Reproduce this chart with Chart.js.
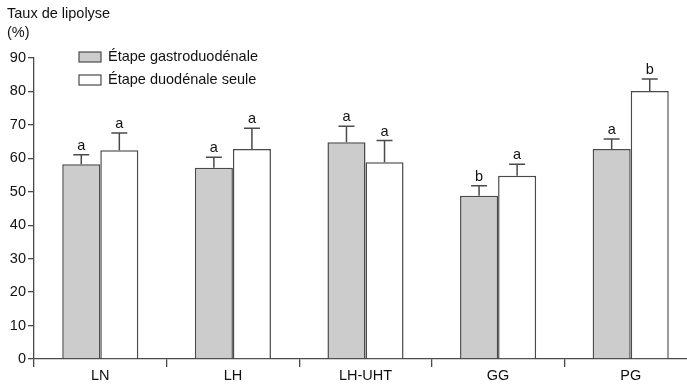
<!DOCTYPE html>
<html><head><meta charset="utf-8">
<script src="https://cdn.jsdelivr.net/npm/chart.js@4/dist/chart.umd.min.js"></script>
<style>html,body{margin:0;padding:0;overflow:hidden;background:#fff;width:687px;height:384px}
#wrap{position:relative;width:697px;height:384px}</style>
</head><body><div id="wrap"><canvas id="c" width="697" height="384"></canvas></div>
<script>
const categories = ['LN','LH','LH-UHT','GG','PG'];
const seriesNames = ['Étape gastroduodénale','Étape duodénale seule'];
const gastroValues = [58.2, 57.2, 64.8, 48.8, 62.8];
const gastroErrors = [2.9, 3.1, 4.8, 3.0, 3.0];
const gastroLetters = ['a','a','a','b','a'];
const duoValues = [62.4, 62.8, 58.8, 54.8, 80.1];
const duoErrors = [5.2, 6.2, 6.5, 3.4, 3.6];
const duoLetters = ['a','a','a','a','b'];
const yTicks = [0,10,20,30,40,50,60,70,80,90];
const yTitle = ['Taux de lipolyse','(%)'];

const FONT = '"Liberation Sans", Arial, Helvetica, sans-serif';
const FS = 14.5;
const LINE = '#4a4a4a';

const errLetters = [ {err: gastroErrors, let: gastroLetters}, {err: duoErrors, let: duoLetters} ];

const decorPlugin = {
  id: 'decor',
  afterDatasetsDraw(chart) {
    const ctx = chart.ctx, y = chart.scales.y;
    ctx.save();
    chart.data.datasets.forEach((ds, di) => {
      const meta = chart.getDatasetMeta(di);
      meta.data.forEach((el, i) => {
        const v = ds.data[i], e = errLetters[di].err[i];
        const yt = y.getPixelForValue(v + e);
        ctx.strokeStyle = LINE; ctx.lineWidth = 1.5;
        ctx.beginPath();
        ctx.moveTo(el.x, el.y); ctx.lineTo(el.x, yt);
        ctx.moveTo(el.x - 8, yt); ctx.lineTo(el.x + 8, yt);
        ctx.stroke();
        ctx.fillStyle = '#111'; ctx.font = FS + 'px ' + FONT;
        ctx.textAlign = 'center'; ctx.textBaseline = 'alphabetic';
        ctx.fillText(errLetters[di].let[i], el.x, yt - 5);
      });
    });
    // title
    ctx.fillStyle = '#111'; ctx.font = FS + 'px ' + FONT;
    ctx.textAlign = 'left'; ctx.textBaseline = 'middle';
    ctx.fillText(yTitle[0], 7, 14);
    ctx.fillText(yTitle[1], 7, 33);
    // legend
    const fills = chart.data.datasets.map(d => d.backgroundColor);
    [57, 80].forEach((cy, k) => {
      ctx.fillStyle = fills[k];
      ctx.fillRect(79, cy - 5, 22, 10);
      ctx.strokeStyle = LINE; ctx.lineWidth = 1.2;
      ctx.strokeRect(79, cy - 5, 22, 10);
      ctx.fillStyle = '#111';
      ctx.fillText(seriesNames[k], 108, cy);
    });
    ctx.restore();
  }
};

new Chart(document.getElementById('c'), {
  type: 'bar',
  data: {
    labels: categories,
    datasets: [
      {label: seriesNames[0], data: gastroValues, backgroundColor: '#cccccc', borderColor: LINE, borderWidth: 1.5, borderSkipped: 'start'},
      {label: seriesNames[1], data: duoValues, backgroundColor: '#ffffff', borderColor: LINE, borderWidth: 1.5, borderSkipped: 'start'}
    ]
  },
  options: {
    responsive: false, animation: false,
    datasets: {bar: {categoryPercentage: 0.574, barPercentage: 1.0}},
    layout: {padding: {top: 58, left: 0, right: 0, bottom: 0}},
    plugins: {legend: {display: false}, tooltip: {enabled: false}},
    scales: {
      x: {
        grid: {offset: true, drawOnChartArea: false, drawTicks: true, tickLength: 8, color: LINE, lineWidth: 1.3},
        border: {color: LINE, width: 1.3},
        ticks: {color: '#111', font: {family: FONT, size: FS}, padding: 0},
        afterFit(s) { s.height = 25; }
      },
      y: {
        min: 0, max: 90,
        afterBuildTicks(s) { s.ticks = yTicks.map(v => ({value: v})); },
        grid: {drawOnChartArea: false, drawTicks: true, tickLength: 6, color: LINE, lineWidth: 1.3},
        border: {color: LINE, width: 1.3},
        ticks: {color: '#111', font: {family: FONT, size: FS}, padding: 2},
        afterFit(s) { s.width = 34; }
      }
    }
  },
  plugins: [decorPlugin]
});
</script></body></html>
